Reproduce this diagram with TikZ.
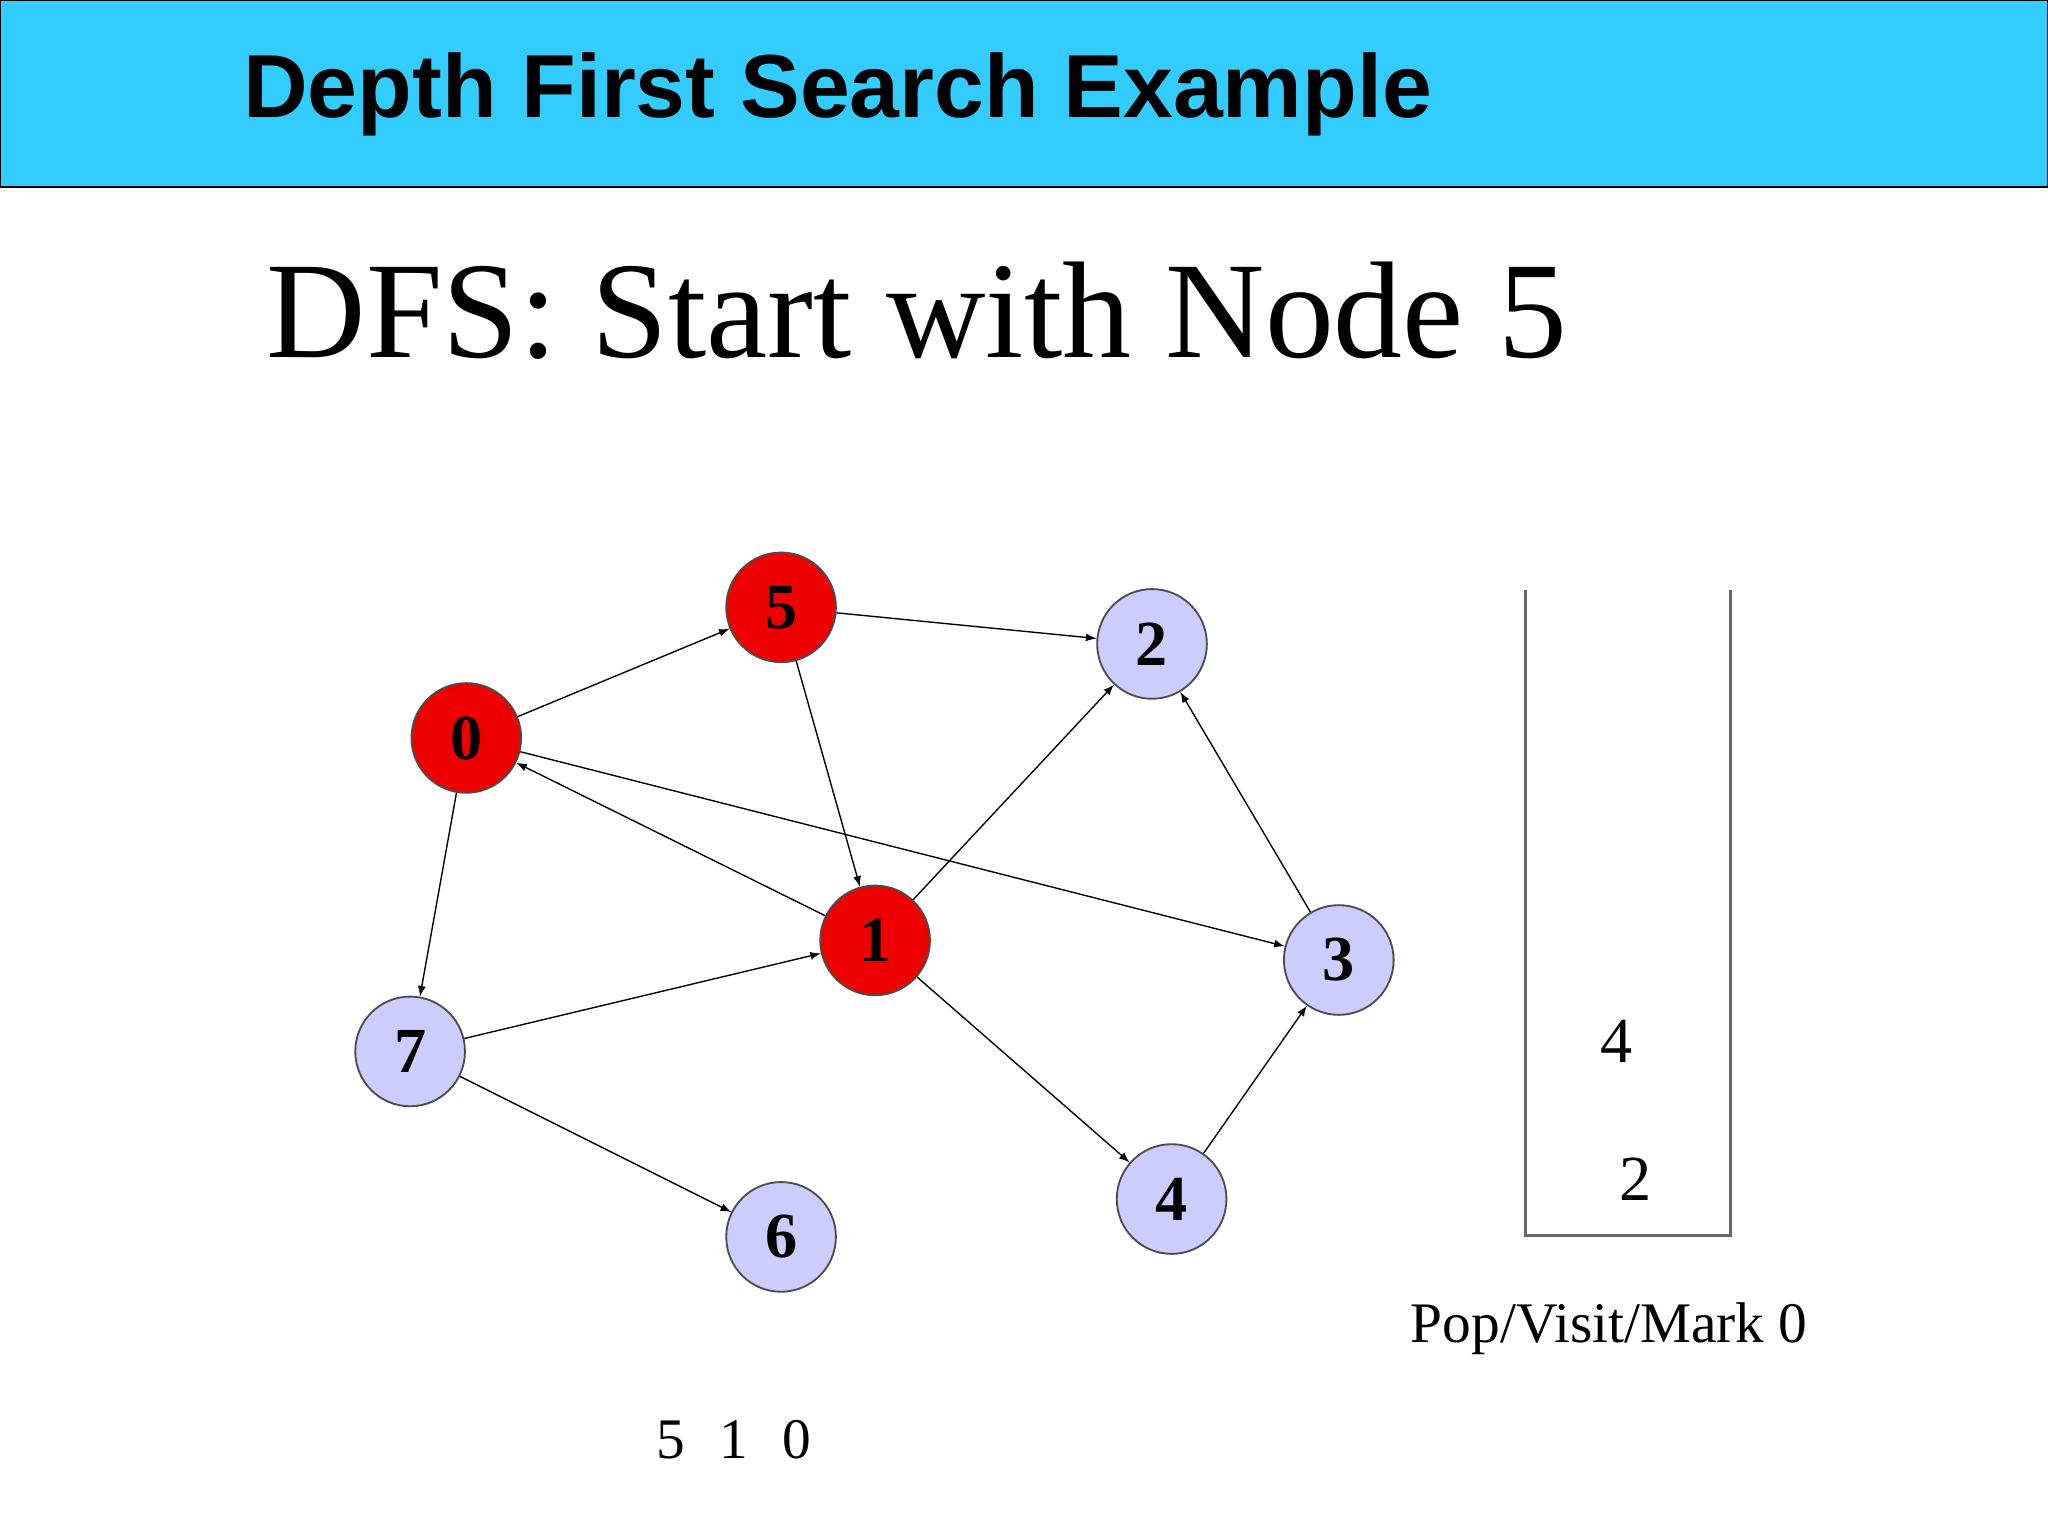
\documentclass[tikz,border=0pt]{standalone}
\usepackage{fontspec}
\setmainfont{Liberation Serif}
\newfontfamily\hdr{Liberation Sans}
\begin{document}
\begin{tikzpicture}[x=0.02cm,y=-0.02cm,
  gnode/.style={circle,draw=black!70,line width=0.8pt,minimum size=1.68cm,inner sep=0pt,font=\fontsize{28}{30}\selectfont\bfseries},
  blue/.style={gnode,fill={rgb,255:red,204;green,204;blue,255}},
  red/.style={gnode,fill={rgb,255:red,238;green,0;blue,0}},
  edge/.style={-latex,line width=0.6pt}]
\useasboundingbox (0,0) rectangle (1568,1176);
\fill[white] (0,0) rectangle (1568,1176);
\draw[fill={rgb,255:red,51;green,204;blue,255},line width=0.8pt] (0,0) rectangle (1568,143);
\node[anchor=west,font=\hdr\bfseries\fontsize{39}{42}\selectfont] (title) at (180,72) {Depth First Search Example};
\node[anchor=west,font=\fontsize{60}{64}\selectfont] (sub) at (198,238) {DFS: Start with Node 5};
\node[red] (n5) at (598,465) {5};
\node[blue] (n2) at (882,493) {2};
\node[red] (n0) at (357,565) {0};
\node[red] (n1) at (670,720) {1};
\node[blue] (n3) at (1025,735) {3};
\node[blue] (n7) at (314,805) {7};
\node[blue] (n4) at (897,918) {4};
\node[blue] (n6) at (598,947) {6};
\draw[edge] (n0) -- (n5);
\draw[edge] (n5) -- (n2);
\draw[edge] (n5) -- (n1);
\draw[edge] (n1) -- (n0);
\draw[edge] (n0) -- (n3);
\draw[edge] (n0) -- (n7);
\draw[edge] (n7) -- (n1);
\draw[edge] (n7) -- (n6);
\draw[edge] (n1) -- (n2);
\draw[edge] (n1) -- (n4);
\draw[edge] (n4) -- (n3);
\draw[edge] (n3) -- (n2);
\draw[black!60,line width=1pt] (1168,452) -- (1168,946) -- (1325,946) -- (1325,452);
\node[font=\fontsize{28}{30}\selectfont] (s4) at (1238,797) {4};
\node[font=\fontsize{28}{30}\selectfont] (s2) at (1252,903) {2};
\node[font=\fontsize{25}{27}\selectfont] (pop) at (1232,1017) {Pop/Visit/Mark 0};
\node[font=\fontsize{25}{27}\selectfont] (seq) at (562,1102) {5\hspace{0.6em}1\hspace{0.6em}0};
\end{tikzpicture}
\end{document}
